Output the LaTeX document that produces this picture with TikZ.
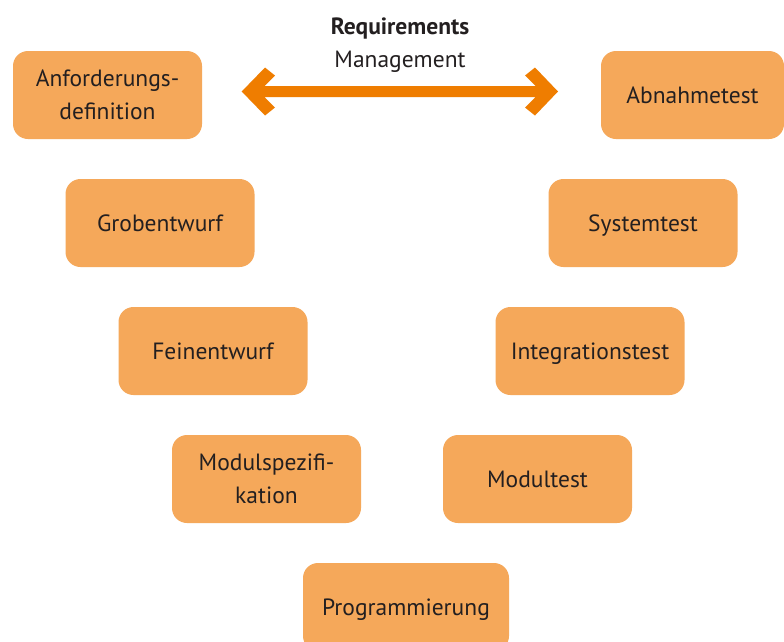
\documentclass[tikz,border=0pt]{standalone}
\usepackage{fontspec}
\setmainfont{PT Sans}
\definecolor{boxorange}{HTML}{F5A85A}
\definecolor{arroworange}{HTML}{EF7D00}
\definecolor{textdark}{HTML}{231F20}
\begin{document}
\begin{tikzpicture}[x=1pt,y=-1pt]
\tikzset{
  vbox/.style={rounded corners=15pt, fill=boxorange, minimum width=189pt, minimum height=88pt,
    align=center, inner sep=0pt, text=textdark, font=\fontsize{23.5}{33}\selectfont},
  oneline/.style={text height=16pt, text depth=0pt},
  lbl/.style={text=textdark, inner sep=0pt, anchor=base, font=\fontsize{23.5}{28}\selectfont}
}
\useasboundingbox (0,0) rectangle (784,641);
\fill[white] (0,0) rectangle (784,641);
\node[vbox] (anf) at (107.5,95) {Anforderungs-\\definition};
\node[vbox, oneline, minimum width=183pt] (abn) at (692.5,95) {Abnahmetest};
\node[vbox, oneline] (grob) at (160,223) {Grobentwurf};
\node[vbox, oneline] (sys) at (643,223) {Systemtest};
\node[vbox, oneline] (fein) at (213,351) {Feinentwurf};
\node[vbox, oneline] (integ) at (590,351) {Integrationstest};
\node[vbox] (modsp) at (266.5,479) {Modulspezifi-\\kation};
\node[vbox, oneline] (modt) at (537.5,479) {Modultest};
\node[vbox, oneline, minimum width=206pt] (prog) at (406,607) {Programmierung};
\node[lbl, font=\fontsize{23.5}{28}\selectfont\bfseries] (req) at (400,34) {Requirements};
\node[lbl] (mgmt) at (400,67) {Management};
\fill[arroworange] (241.7,91.5) -- (265,67.5) -- (275,75.5) -- (264.5,86) -- (535.5,86) -- (525,75.5)
  -- (535,67.5) -- (558,91.5) -- (535,115.5) -- (525,107.5) -- (535.5,97) -- (264.5,97)
  -- (275,107.5) -- (265,115.5) -- cycle;
\end{tikzpicture}
\end{document}
